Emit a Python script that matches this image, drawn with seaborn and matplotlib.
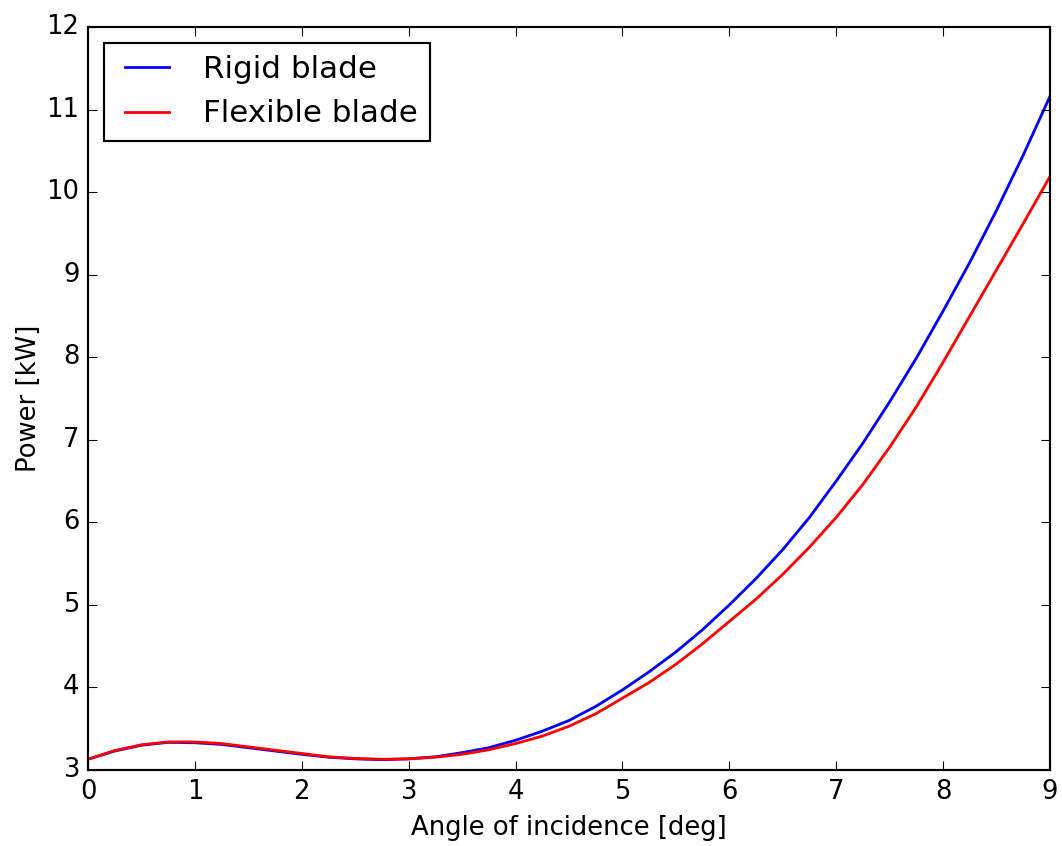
import numpy as np
import pandas as pd
import matplotlib
matplotlib.use("Agg")
import matplotlib.pyplot as plt
import seaborn as sns

angle = [0.0, 0.25, 0.5, 0.75, 1.0, 1.25, 1.5, 1.75, 2.0, 2.25, 2.5, 2.75,
         3.0, 3.25, 3.5, 3.75, 4.0, 4.25, 4.5, 4.75, 5.0, 5.25, 5.5, 5.75,
         6.0, 6.25, 6.5, 6.75, 7.0, 7.25, 7.5, 7.75, 8.0, 8.25, 8.5, 8.75, 9.0]

rigid = [3.13, 3.23, 3.30, 3.335, 3.33, 3.31, 3.27, 3.23, 3.19, 3.155, 3.135, 3.125,
         3.135, 3.16, 3.21, 3.27, 3.36, 3.47, 3.60, 3.77, 3.97, 4.19, 4.43, 4.70,
         5.00, 5.32, 5.67, 6.06, 6.50, 6.96, 7.46, 7.99, 8.56, 9.15, 9.78, 10.45, 11.16]

flexible = [3.13, 3.235, 3.305, 3.34, 3.34, 3.32, 3.28, 3.24, 3.20, 3.16, 3.14, 3.13,
            3.135, 3.155, 3.19, 3.245, 3.32, 3.41, 3.53, 3.68, 3.87, 4.06, 4.28, 4.53,
            4.80, 5.07, 5.37, 5.70, 6.06, 6.46, 6.91, 7.40, 7.94, 8.50, 9.06, 9.62, 10.19]

series_names = ["Rigid blade", "Flexible blade"]
series_colors = ["blue", "red"]

df = pd.concat([
    pd.DataFrame({"angle": angle, "power": rigid, "series": series_names[0]}),
    pd.DataFrame({"angle": angle, "power": flexible, "series": series_names[1]}),
], ignore_index=True)

plt.style.use("classic")
plt.rcParams["font.family"] = ["DejaVu Sans"]

DPI = 155
fig = plt.figure(figsize=(1062 / DPI, 846 / DPI), dpi=DPI, facecolor="white")
ax = fig.add_axes([88 / 1062, 1 - 770 / 846, (1050 - 88) / 1062, (770 - 27) / 846])
ax.set_facecolor("white")

sns.lineplot(data=df, x="angle", y="power", hue="series", hue_order=series_names,
             palette=dict(zip(series_names, series_colors)), ax=ax,
             linewidth=1.3, sort=False, estimator=None)

ax.set_xlim(0, 9)
ax.set_ylim(3, 12)
ax.set_xticks(range(0, 10))
ax.set_yticks(range(3, 13))
ax.set_xlabel("Angle of incidence [deg]", fontsize=12)
ax.set_ylabel("Power [kW]", fontsize=12, labelpad=2)
ax.tick_params(labelsize=12)

handles, labels = ax.get_legend_handles_labels()
leg = ax.legend(handles, labels, loc="upper left", fontsize=14.4, frameon=True,
                fancybox=False, shadow=False)
leg.get_frame().set_edgecolor("black")
leg.get_frame().set_facecolor("white")
for h in leg.get_lines():
    h.set_linewidth(1.3)

fig.savefig("out.png", dpi=DPI, facecolor="white")
